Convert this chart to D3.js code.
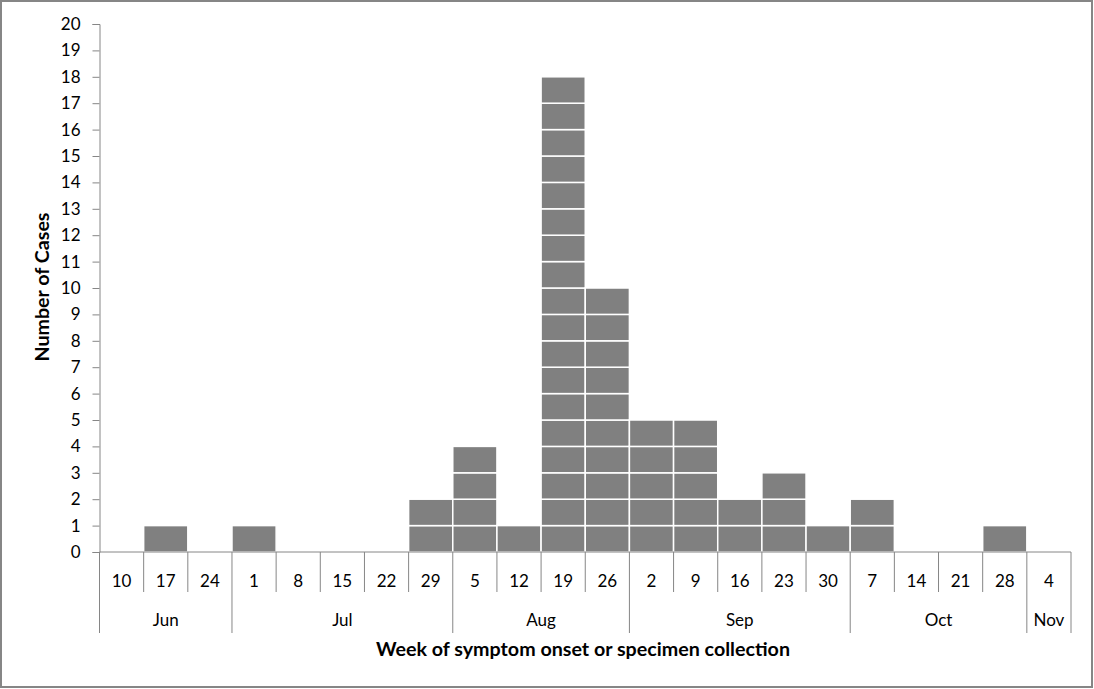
<!DOCTYPE html>
<html><head><meta charset="utf-8">
<script src="https://cdn.jsdelivr.net/npm/d3@7"></script>
<style>body{margin:0;background:#fff;}svg{display:block;}text{font-family:Lato,"Open Sans",sans-serif;}</style>
</head><body>
<svg id="c" width="1094" height="689"></svg>
<script>
const weeks = ["10","17","24","1","8","15","22","29","5","12","19","26","2","9","16","23","30","7","14","21","28","4"];
const cases = [0,1,0,1,0,0,0,2,4,1,18,10,5,5,2,3,1,2,0,0,1,0];
const months = ["Jun","Jul","Aug","Sep","Oct","Nov"];
const monthStart = [0,3,8,12,17,21];
const yTicks = d3.range(0,21);

const svg = d3.select("#c");
const W=1094,H=689;
svg.append("rect").attr("x",1).attr("y",1).attr("width",W-3).attr("height",H-3)
  .attr("fill","#fff").attr("stroke","#868686").attr("stroke-width",2);

const L=99.5,R=1071,T=24,B=552;
const x = d3.scaleBand().domain(d3.range(weeks.length)).range([L,R]).padding(0);
const y = d3.scaleLinear().domain([0,20]).range([B,T]);
const grey="#868686";
const FS=17;

// bars as unit cells
const cells=[];
cases.forEach((v,i)=>{for(let k=0;k<v;k++)cells.push({i,k});});
svg.append("g").selectAll("rect").data(cells).join("rect")
  .attr("x",d=>x(d.i)).attr("width",x.bandwidth())
  .attr("y",d=>y(d.k+1)).attr("height",d=>y(d.k)-y(d.k+1))
  .attr("fill","#808080").attr("stroke","#fff").attr("stroke-width",1.5);

// y axis
const ya = svg.append("g").attr("transform",`translate(${L},0)`)
  .call(d3.axisLeft(y).tickValues(yTicks).tickSize(7).tickPadding(12).tickFormat(d3.format("d")));
ya.select(".domain").attr("stroke",grey);
ya.selectAll(".tick line").attr("stroke",grey);
ya.selectAll("text").attr("font-size",FS).attr("fill","#000").attr("font-family","Lato,sans-serif");

// x axis line
svg.append("line").attr("x1",L).attr("x2",R).attr("y1",B).attr("y2",B).attr("stroke",grey);
// category separators
const g=svg.append("g");
d3.range(weeks.length+1).forEach(i=>{
  const xx = i<weeks.length ? x(i) : R;
  const isMonth = monthStart.includes(i)||i===weeks.length;
  g.append("line").attr("x1",xx).attr("x2",xx).attr("y1",B).attr("y2",isMonth?633:592).attr("stroke",grey);
});
g.selectAll("text.w").data(weeks).join("text").attr("class","w")
  .attr("x",(d,i)=>x(i)+x.bandwidth()/2).attr("y",587).attr("text-anchor","middle")
  .attr("font-size",FS).text(d=>d);
months.forEach((m,j)=>{
  const s=monthStart[j], e=j<months.length-1?monthStart[j+1]:weeks.length;
  const xs=x(s), xe= e<weeks.length?x(e):R;
  g.append("text").attr("x",(xs+xe)/2).attr("y",626).attr("text-anchor","middle")
   .attr("font-size",FS).text(m);
});
svg.append("text").attr("x",583).attr("y",656).attr("text-anchor","middle")
  .attr("font-size",19).attr("font-weight","bold")
  .attr("textLength",414).attr("lengthAdjust","spacingAndGlyphs")
  .text("Week of symptom onset or specimen collection");
svg.append("text").attr("transform","translate(49,287) rotate(-90)").attr("text-anchor","middle")
  .attr("font-size",19).attr("font-weight","bold")
  .attr("textLength",149).attr("lengthAdjust","spacingAndGlyphs")
  .text("Number of Cases");
</script>
</body></html>
